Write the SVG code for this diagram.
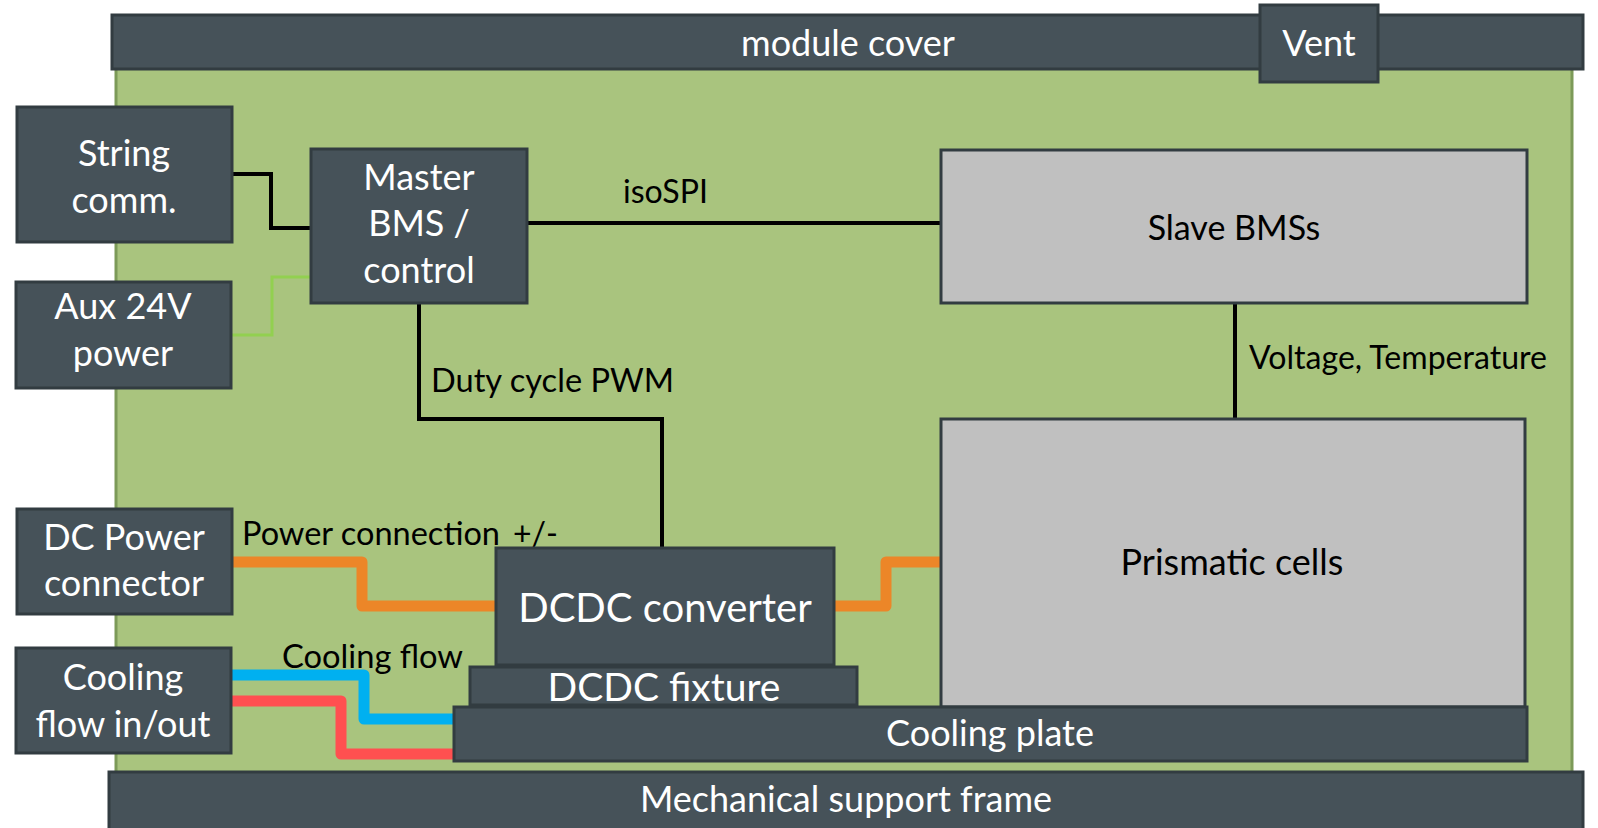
<svg xmlns="http://www.w3.org/2000/svg" width="1598" height="828" viewBox="0 0 1598 828">
  <style>
    .dark { fill: #465259; stroke: #323c41; stroke-width: 3; }
    .grey { fill: #c0c0c0; stroke: #323c41; stroke-width: 3; }
    .wt { font-family: Lato, "Open Sans", sans-serif; font-size: 36px; fill: #ffffff; text-anchor: middle; }
    .bt { font-family: Lato, "Open Sans", sans-serif; font-size: 34px; fill: #000000; text-anchor: middle; }
    .lbl { font-family: Lato, "Open Sans", sans-serif; font-size: 32px; fill: #000000; }
    .sig { fill: none; stroke: #000000; stroke-width: 4; stroke-linejoin: miter; }
    .aux { fill: none; stroke: #92d050; stroke-width: 3; }
    .pwr { fill: none; stroke: #ec8628; stroke-width: 11; stroke-linecap: round; stroke-linejoin: round; }
    .cin { fill: none; stroke: #00b0f0; stroke-width: 11; stroke-linecap: round; stroke-linejoin: round; }
    .cout { fill: none; stroke: #ff5050; stroke-width: 11; stroke-linecap: round; stroke-linejoin: round; }
  </style>

  <!-- module housing -->
  <rect id="module" x="116" y="60" width="1456" height="714" fill="#a9c47e" stroke="#7c9a58" stroke-width="3"/>

  <!-- connectors -->
  <g id="connectors">
    <polyline class="sig" points="232,174 271,174 271,228 311,228"/>
    <polyline class="aux" points="311,277 272,277 272,335 229,335"/>
    <line class="sig" x1="527" y1="223" x2="941" y2="223"/>
    <polyline class="sig" points="419,303 419,419 662,419 662,548"/>
    <line class="sig" x1="1235" y1="303" x2="1235" y2="419"/>
    <polyline class="pwr" points="229,562 362,562 362,606 495,606"/>
    <polyline class="pwr" points="831,606 886,606 886,562 940,562"/>
    <polyline class="cin" points="229,675 364,675 364,719 454,719"/>
    <polyline class="cout" points="229,701 341,701 341,754 454,754"/>
    <text class="lbl" x="623" y="203" textLength="85" lengthAdjust="spacingAndGlyphs">isoSPI</text>
    <text class="lbl" x="431" y="392" textLength="243" lengthAdjust="spacingAndGlyphs">Duty cycle PWM</text>
    <text class="lbl" x="1249" y="369" textLength="298" lengthAdjust="spacingAndGlyphs">Voltage, Temperature</text>
    <text class="lbl" y="545"><tspan x="242" textLength="258" lengthAdjust="spacingAndGlyphs">Power connection</tspan><tspan x="513">+/-</tspan></text>
    <text class="lbl" x="282" y="668" textLength="181" lengthAdjust="spacingAndGlyphs">Cooling flow</text>
  </g>

  <g id="module-cover">
    <rect class="dark" x="112" y="15" width="1471" height="54"/>
    <text class="wt" x="848" y="56">module cover</text>
  </g>
  <g id="vent">
    <rect class="dark" x="1260" y="5" width="118" height="77"/>
    <text class="wt" x="1319" y="56">Vent</text>
  </g>

  <g id="string-comm">
    <rect class="dark" x="17" y="107" width="215" height="135"/>
    <text class="wt" x="124" y="166">String</text>
    <text class="wt" x="124" y="213">comm.</text>
  </g>
  <g id="aux-power">
    <rect class="dark" x="16" y="282" width="215" height="106"/>
    <text class="wt" x="123" y="319">Aux 24V</text>
    <text class="wt" x="123" y="366">power</text>
  </g>
  <g id="master-bms">
    <rect class="dark" x="311" y="149" width="216" height="154"/>
    <text class="wt" x="419" y="190">Master</text>
    <text class="wt" x="419" y="236">BMS /</text>
    <text class="wt" x="419" y="283">control</text>
  </g>
  <g id="slave-bms">
    <rect class="grey" x="941" y="150" width="586" height="153"/>
    <text class="bt" x="1234" y="240">Slave BMSs</text>
  </g>
  <g id="prismatic-cells">
    <rect class="grey" x="941" y="419" width="584" height="288"/>
    <text class="bt" x="1232" y="575" style="font-size:36px">Prismatic cells</text>
  </g>
  <g id="dc-power">
    <rect class="dark" x="17" y="509" width="215" height="105"/>
    <text class="wt" x="124" y="550">DC Power</text>
    <text class="wt" x="124" y="596">connector</text>
  </g>
  <g id="cooling-io">
    <rect class="dark" x="16" y="648" width="215" height="105"/>
    <text class="wt" x="123" y="690">Cooling</text>
    <text class="wt" x="123" y="737">flow in/out</text>
  </g>
  <g id="dcdc-converter">
    <rect class="dark" x="496" y="548" width="338" height="117"/>
    <text class="wt" x="665" y="622" style="font-size:40px">DCDC converter</text>
  </g>
  <g id="dcdc-fixture">
    <rect class="dark" x="470" y="667" width="387" height="38"/>
    <text class="wt" x="664" y="701" style="font-size:39px">DCDC fixture</text>
  </g>
  <g id="cooling-plate">
    <rect class="dark" x="454" y="707" width="1073" height="54"/>
    <text class="wt" x="990" y="746">Cooling plate</text>
  </g>
  <g id="support-frame">
    <rect class="dark" x="109" y="772" width="1474" height="70"/>
    <text class="wt" x="846" y="812">Mechanical support frame</text>
  </g>
</svg>
